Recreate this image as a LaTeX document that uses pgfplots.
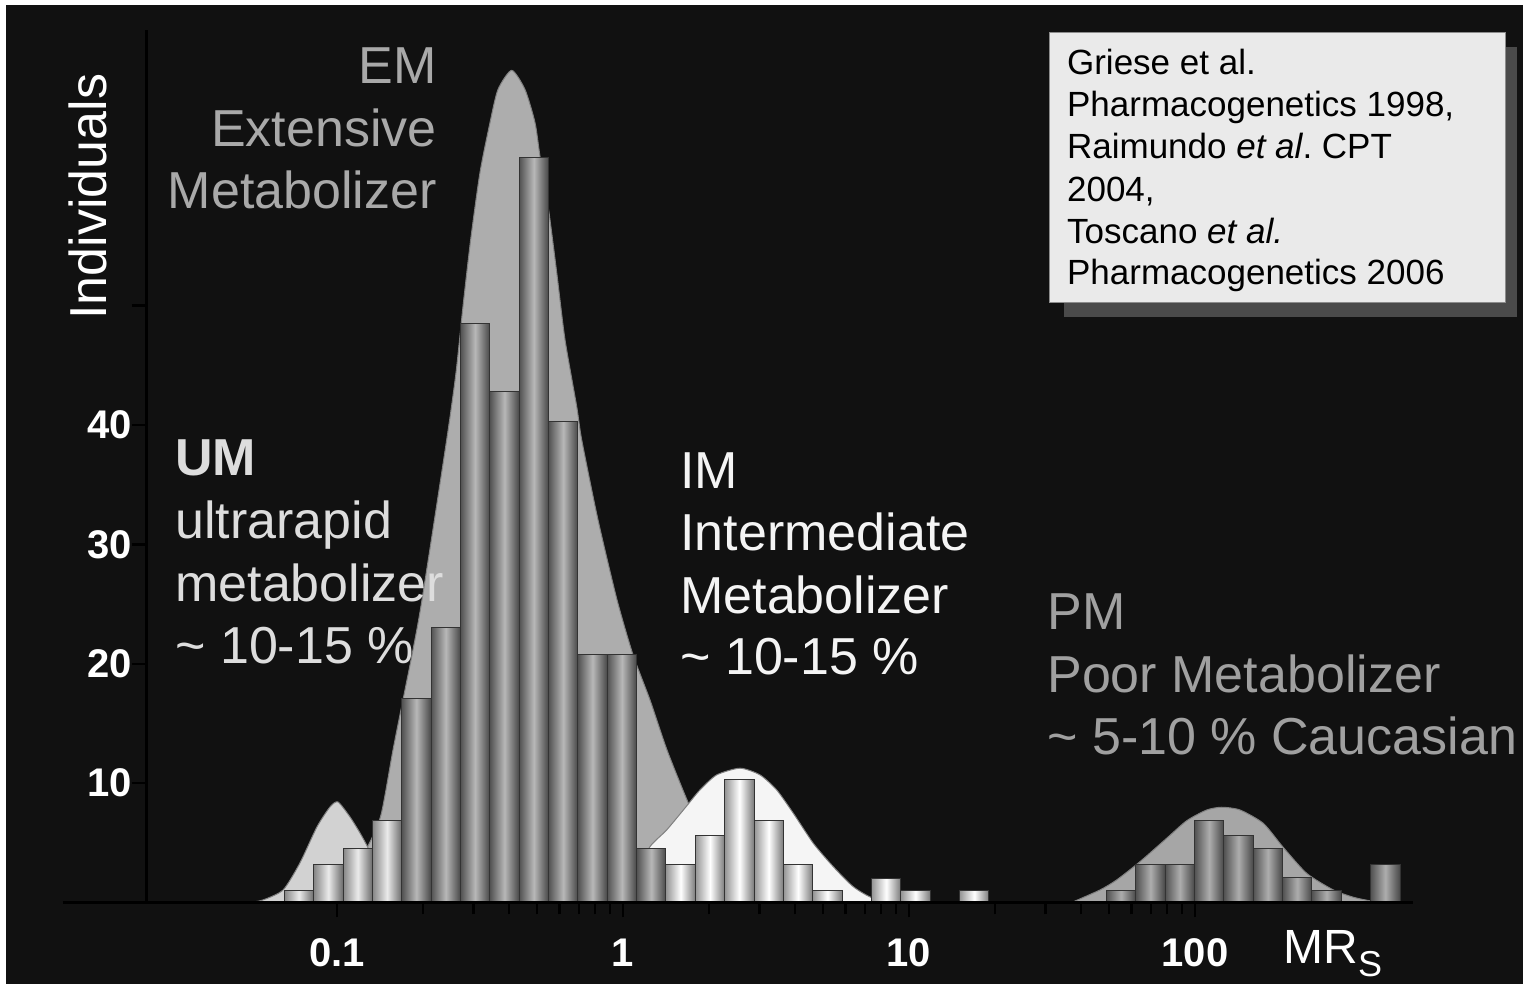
\documentclass[border=0pt]{standalone}
\usepackage{pgfplots}
\pgfplotsset{compat=1.18}
\usepackage{fontspec}
\setmainfont{Liberation Sans}
\definecolor{bg}{HTML}{111111}
\definecolor{emfill}{HTML}{ADADAD}
\definecolor{umfill}{HTML}{D2D2D2}
\definecolor{imfill}{HTML}{F5F5F5}
\definecolor{pmfill}{HTML}{A6A6A6}
\definecolor{emtext}{HTML}{A9A9A9}
\definecolor{pmtext}{HTML}{A0A0A0}
\definecolor{umtext}{HTML}{DDDDDD}
\definecolor{imtext}{HTML}{F4F4F4}
\definecolor{boxfill}{HTML}{EAEAEA}
\definecolor{shadowc}{HTML}{4A4A4A}
\newcommand\bigf{\fontsize{26}{30}\selectfont}
\newcommand\boxf{\fontsize{17.5}{21}\selectfont}
% one histogram bar: style, left edge, right edge, height
\newcommand\B[4]{\addplot[#1] coordinates {(#2,#4) (#3,0)};}
\pgfplotsset{
  umbar/.style={ybar interval, draw=black!80, line width=0.5pt,
    left color=black!48, right color=black!58, middle color=black!8},
  embar/.style={ybar interval, draw=black!80, line width=0.5pt,
    left color=black!68, right color=black!72, middle color=black!28},
  imbar/.style={ybar interval, draw=black!80, line width=0.5pt,
    left color=black!42, right color=black!52, middle color=white},
  pmbar/.style={ybar interval, draw=black!80, line width=0.5pt,
    left color=black!68, right color=black!72, middle color=black!32},
}
\begin{document}
\begin{tikzpicture}
\begin{scope}[x=0.5pt,y=-0.5pt,shift={(-73.5pt,451.25pt)}]
 \fill[white] (0,0) rectangle (1523,984);
 \fill[bg] (6,5) rectangle (1523,984);
\end{scope}
\begin{axis}[
  at={(0,0)}, anchor=south west,
  scale only axis, width=633pt, height=436.25pt,
  xmode=log, xmin=0.02166, xmax=578.4, ymin=0, ymax=73.1,
  axis x line*=bottom, axis y line*=left,
  axis line style={black, line width=1.5pt},
  axis on top,
  xtick={0.1,1,10,100}, xticklabels={0.1,1,10,100},
  ytick={10,20,30,40,50}, yticklabels={10,20,30,40,{}},
  tick align=outside,
  major tick length=7.5pt, minor tick length=6pt,
  tick style={black, line width=1.2pt},
  tick label style={text=white, font=\fontsize{20}{24}\selectfont\bfseries},
  xticklabel style={anchor=north, inner sep=0pt, yshift=-10.5pt},
  yticklabel style={anchor=east, inner sep=0pt},
]
% EM distribution
\addplot[fill=emfill, draw=black!50, line width=0.5pt, smooth, tension=0.4] coordinates {
(0.0742,0) (0.0818,0.38) (0.0960,1.05) (0.1110,2.31) (0.1273,4.57) (0.1425,7.33)
(0.1570,12.78) (0.1701,16.97) (0.1844,21.16) (0.1983,25.36) (0.2419,38.77) (0.2607,44.38)
(0.2758,49.94) (0.2934,55.53) (0.3162,61.15) (0.3428,65.34) (0.3655,68.11) (0.4081,69.72)
(0.4543,68.11) (0.4924,65.34) (0.5126,62.51) (0.5511,57.80) (0.5865,52.77) (0.6269,47.15)
(0.6888,41.56) (0.7171,38.77) (0.8176,32.06) (0.9528,25.36) (1.0839,20.75) (1.2426,16.97)
(1.4249,12.78) (1.6743,8.59) (1.9350,5.24) (2.2733,2.72) (2.7804,0.88) (3.5400,0)
} \closedcycle;
% UM distribution
\addplot[fill=umfill, draw=black!50, line width=0.5pt, smooth, tension=0.4] coordinates {
(0.0496,0) (0.0551,0.21) (0.0648,1.05) (0.0742,3.31) (0.0851,6.33) (0.0945,8.00)
(0.1008,8.42) (0.1110,7.17) (0.1203,5.83) (0.1284,4.57) (0.1414,2.31) (0.1595,0.38) (0.1729,0)
} \closedcycle;
% IM distribution
\addplot[fill=imfill, draw=black!50, line width=0.5pt, smooth, tension=0.4] coordinates {
(0.8312,0) (0.9761,0.80) (1.1015,2.31) (1.2426,4.68) (1.4216,6.08) (1.6701,8.09)
(1.8586,9.43) (2.1267,10.69) (2.5653,11.25) (3.0130,10.69) (3.4459,9.43) (3.9401,7.48)
(4.6281,4.96) (5.4363,3.00) (6.3873,1.32) (7.5041,0.35) (9.3015,0)
} \closedcycle;
% PM distribution
\addplot[fill=pmfill, draw=black!50, line width=0.5pt, smooth, tension=0.4] coordinates {
(37.06,0) (46.54,1.05) (53.24,1.89) (64.23,3.42) (79.62,5.38) (93.54,6.85)
(109.9,7.75) (124.0,7.98) (143.7,7.75) (173.3,6.63) (202.6,4.67) (245.8,2.44)
(304.5,1.05) (357.7,0.44) (409.3,0.14) (461.6,0)
} \closedcycle;
% UM bars
\B{umbar}{0.0654}{0.0829}{1.0}
\B{umbar}{0.0829}{0.1050}{3.2}
\B{umbar}{0.1050}{0.1330}{4.5}
\B{umbar}{0.1330}{0.1684}{6.9}
% EM bars
\B{embar}{0.1684}{0.2133}{17.1}
\B{embar}{0.2133}{0.2702}{23.0}
\B{embar}{0.2702}{0.3422}{48.5}
\B{embar}{0.3422}{0.4335}{42.8}
\B{embar}{0.4335}{0.5491}{62.4}
\B{embar}{0.5491}{0.6955}{40.3}
\B{embar}{0.6955}{0.8810}{20.8}
\B{embar}{0.8810}{1.1159}{20.8}
\B{embar}{1.1159}{1.4135}{4.5}
% IM bars
\B{imbar}{1.4135}{1.7906}{3.2}
\B{imbar}{1.7906}{2.2682}{5.6}
\B{imbar}{2.2682}{2.8731}{10.3}
\B{imbar}{2.8731}{3.6383}{6.9}
\B{imbar}{3.6383}{4.6088}{3.2}
\B{imbar}{4.6088}{5.8388}{1.0}
\B{imbar}{7.3943}{9.3675}{2.0}
\B{imbar}{9.3675}{11.866}{1.0}
\B{imbar}{15.030}{19.038}{1.0}
% PM bars
\B{pmbar}{49.00}{62.08}{1.0}
\B{pmbar}{62.08}{78.62}{3.2}
\B{pmbar}{78.62}{99.59}{3.2}
\B{pmbar}{99.59}{126.1}{6.9}
\B{pmbar}{126.1}{159.8}{5.6}
\B{pmbar}{159.8}{202.4}{4.5}
\B{pmbar}{202.4}{256.4}{2.1}
\B{pmbar}{256.4}{324.8}{1.0}
\B{pmbar}{411.3}{521.1}{3.2}
\end{axis}
\begin{scope}[x=0.5pt,y=-0.5pt,shift={(-73.5pt,451.25pt)}]
 \draw[black, line width=1.5pt] (63,902.5) -- (147,902.5);
 \node[rotate=90, anchor=base west, inner sep=0, text=white,
   font=\fontsize{26}{30}\selectfont] at (107,320) {Individuals};
 % EM text
 \node[anchor=base east, inner sep=0, text=emtext, font=\bigf] at (437,83.3) {EM};
 \node[anchor=base east, inner sep=0, text=emtext, font=\bigf] at (437,146.7) {Extensive};
 \node[anchor=base east, inner sep=0, text=emtext, font=\bigf] at (437,209) {Metabolizer};
 % UM text
 \node[anchor=base west, inner sep=0, text=umtext, font=\bigf\bfseries] at (175,475.5) {UM};
 \node[anchor=base west, inner sep=0, text=umtext, font=\bigf] at (175,538.3) {ultrarapid};
 \node[anchor=base west, inner sep=0, text=umtext, font=\bigf] at (175,601.7) {metabolizer};
 \node[anchor=base west, inner sep=0, text=umtext, font=\bigf] at (175,663.3) {\textasciitilde\ 10-15 \%};
 % IM text
 \node[anchor=base west, inner sep=0, text=imtext, font=\bigf] at (680,488.3) {IM};
 \node[anchor=base west, inner sep=0, text=imtext, font=\bigf] at (680,550.7) {Intermediate};
 \node[anchor=base west, inner sep=0, text=imtext, font=\bigf] at (680,613.3) {Metabolizer};
 \node[anchor=base west, inner sep=0, text=imtext, font=\bigf] at (680,675) {\textasciitilde\ 10-15 \%};
 % PM text
 \node[anchor=base west, inner sep=0, text=pmtext, font=\bigf] at (1047,630) {PM};
 \node[anchor=base west, inner sep=0, text=pmtext, font=\bigf] at (1047,693) {Poor Metabolizer};
 \node[anchor=base west, inner sep=0, text=pmtext, font=\bigf] at (1047,755) {\textasciitilde\ 5-10 \% Caucasian};
 % MR_S
 \node[anchor=base west, inner sep=0, text=white, font=\fontsize{24}{28}\selectfont] at (1283,963.3)
   {MR\raisebox{-6.7pt}{\fontsize{18}{20}\selectfont S}};
 % reference box
 \fill[shadowc] (1064,47) rectangle (1517,317);
 \filldraw[fill=boxfill, draw=black!45, line width=0.5pt] (1049,33) rectangle (1505,303);
 \node[anchor=base west, inner sep=0, text=black, font=\boxf] at (1066.7,75) {Griese et al.};
 \node[anchor=base west, inner sep=0, text=black, font=\boxf] at (1066.7,116.7) {Pharmacogenetics 1998,};
 \node[anchor=base west, inner sep=0, text=black, font=\boxf] at (1066.7,158.3) {Raimundo \textit{et al}.\ CPT};
 \node[anchor=base west, inner sep=0, text=black, font=\boxf] at (1066.7,201.7) {2004,};
 \node[anchor=base west, inner sep=0, text=black, font=\boxf] at (1066.7,243.3) {Toscano \textit{et al.}};
 \node[anchor=base west, inner sep=0, text=black, font=\boxf] at (1066.7,285) {Pharmacogenetics 2006};
 \pgfresetboundingbox
 \useasboundingbox (0,0) rectangle (1523,984);
\end{scope}
\end{tikzpicture}
\end{document}
